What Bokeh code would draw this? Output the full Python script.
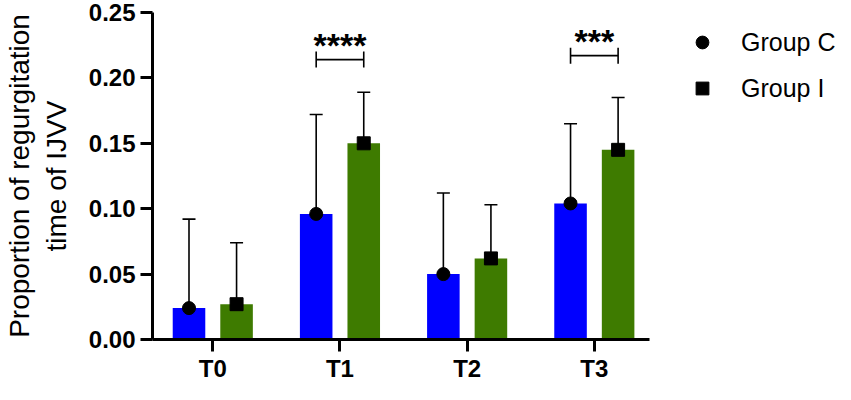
from bokeh.plotting import figure
from bokeh.models import (ColumnDataSource, Range1d, FixedTicker, Whisker, TeeHead,
                          Legend, LegendItem)
from bokeh.core.properties import value
from bokeh.embed import file_html
from bokeh.resources import INLINE

# ---- data ----
categories = ["T0", "T1", "T2", "T3"]
group_c_mean = [0.024, 0.096, 0.050, 0.104]
group_c_upper = [0.092, 0.172, 0.112, 0.165]
group_c_lower = [0.0, 0.0, 0.0, 0.0]
group_i_mean = [0.027, 0.150, 0.062, 0.145]
group_i_upper = [0.074, 0.189, 0.103, 0.185]
group_i_lower = [0.0, 0.085, 0.029, 0.106]
y_ticks = [0.00, 0.05, 0.10, 0.15, 0.20, 0.25]
y_tick_labels = ["0.00", "0.05", "0.10", "0.15", "0.20", "0.25"]
sig_categories = ["T1", "T3"]
sig_labels = ["****", "***"]
sig_heights = [0.214, 0.217]

# ---- layout constants ----
OFF = 0.187
BAR_W = 0.256
FONT = "Liberation Sans"
TOP = 12
BOTTOM = 43
LEFT = 144
W = 835
H = 384
FRAME_H = H - TOP - BOTTOM
PX_PER_UNIT = 128.67
X0, X1 = -0.474, 3.435          # extent of the drawn x axis
X_END = X0 + (W - LEFT) / PX_PER_UNIT

xpos = list(range(len(categories)))
xc = [x - OFF for x in xpos]
xi = [x + OFF for x in xpos]

src_c = ColumnDataSource(dict(x=xc, top=group_c_mean, upper=group_c_upper, lower=group_c_lower))
src_i = ColumnDataSource(dict(x=xi, top=group_i_mean, upper=group_i_upper, lower=group_i_lower))

sig_x = [categories.index(c) for c in sig_categories]
src_sig = ColumnDataSource(dict(x=sig_x, y=sig_heights, text=sig_labels,
                                x0=[x - OFF for x in sig_x], x1=[x + OFF for x in sig_x]))

p = figure(width=W, height=H, output_backend="svg", toolbar_location=None,
           x_range=Range1d(X0, X_END), y_range=Range1d(0, 0.25),
           min_border_left=LEFT, min_border_right=0, min_border_top=TOP, min_border_bottom=BOTTOM)
p.outline_line_color = None
p.xgrid.visible = False
p.ygrid.visible = False
p.background_fill_color = "white"

p.vbar(x="x", top="top", width=BAR_W, bottom=0, source=src_c, fill_color="#0000ff", line_color=None)
p.vbar(x="x", top="top", width=BAR_W, bottom=0, source=src_i, fill_color="#3e7b00", line_color=None)

for src in (src_c, src_i):
    p.add_layout(Whisker(base="x", upper="upper", lower="lower", source=src, dimension="height",
                         line_color="black", line_width=1.6,
                         upper_head=TeeHead(size=13, line_color="black", line_width=1.6),
                         lower_head=TeeHead(size=13, line_color="black", line_width=1.6)))

rc = p.scatter(x="x", y="top", source=src_c, marker="circle", size=13, color="black")
ri = p.scatter(x="x", y="top", source=src_i, marker="square", size=13, color="black")

# significance brackets
p.add_layout(Whisker(base="y", upper="x1", lower="x0", source=src_sig, dimension="width",
                     line_color="black", line_width=1.6,
                     upper_head=TeeHead(size=16, line_color="black", line_width=1.6),
                     lower_head=TeeHead(size=16, line_color="black", line_width=1.6)))
p.text(x="x", y="y", text="text", source=src_sig, text_align="center", text_baseline="alphabetic",
       text_font=value(FONT), text_font_style="bold", text_font_size="34px", text_color="black",
       y_offset=-15)

# axes
p.xaxis.ticker = FixedTicker(ticks=xpos)
p.xaxis.bounds = (X0, X1)
p.xaxis.major_label_overrides = {i: c for i, c in enumerate(categories)}
p.yaxis.ticker = FixedTicker(ticks=y_ticks)
p.yaxis.major_label_overrides = {t: l for t, l in zip(y_ticks, y_tick_labels)}
for ax in (p.xaxis, p.yaxis):
    ax.axis_line_width = 3
    ax.axis_line_color = "black"
    ax.major_tick_line_width = 3
    ax.major_tick_line_color = "black"
    ax.major_tick_out = 12
    ax.major_tick_in = 0
    ax.minor_tick_line_color = None
    ax.major_label_text_font = FONT
    ax.major_label_text_font_style = "bold"
    ax.major_label_text_font_size = "24px"
    ax.major_label_text_color = "black"
p.xaxis.major_label_standoff = 3
p.yaxis.major_label_standoff = 5
p.yaxis.axis_label = "Proportion of regurgitation\ntime of IJVV"
p.yaxis.axis_label_text_font = FONT
p.yaxis.axis_label_text_font_style = "normal"
p.yaxis.axis_label_text_font_size = "28px"
p.yaxis.axis_label_text_color = "black"
p.yaxis.axis_label_standoff = 14

legend = Legend(items=[LegendItem(label="Group C", renderers=[rc]),
                       LegendItem(label="Group I", renderers=[ri])],
                location=(534, FRAME_H - 94), glyph_width=32, glyph_height=32, spacing=14,
                label_standoff=23, padding=0, margin=0,
                border_line_color=None, background_fill_alpha=0,
                label_text_font=FONT, label_text_font_size="25px", label_text_color="black")
p.add_layout(legend, "center")

open("out.html", "w").write(file_html(p, INLINE))
